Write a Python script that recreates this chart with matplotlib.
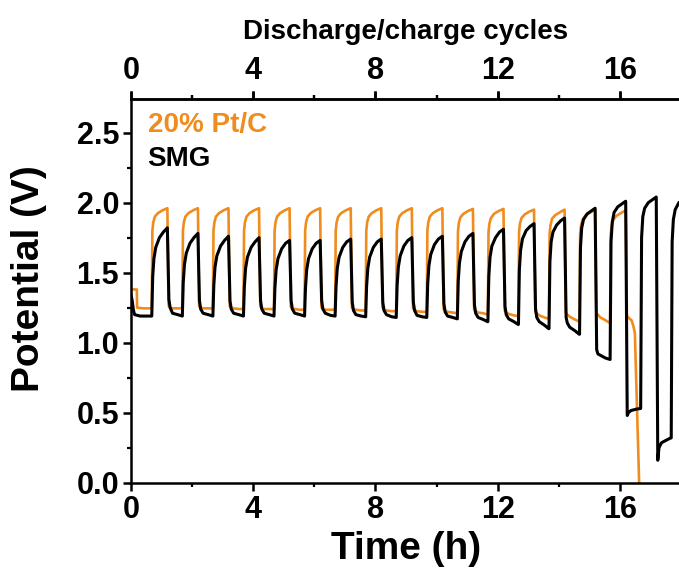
import matplotlib
matplotlib.use("Agg")
import matplotlib.pyplot as plt
import numpy as np

# ---------------- data ----------------
# start time (h) of each charge step
CHARGE_START = [0.68, 1.68, 2.68, 3.68, 4.68, 5.68, 6.68, 7.68, 8.68,
                9.68, 10.68, 11.68, 12.68, 13.68, 14.68, 15.68, 16.68, 17.68]

# relative sampling times inside one cycle (h after charge start)
SMG_CHARGE_OFF = [0.00, 0.03, 0.07, 0.13, 0.25, 0.38, 0.51]
SMG_DIS_OFF = [0.56, 0.60, 0.68, 0.85, 0.99]
PT_CHARGE_OFF = [0.00, 0.02, 0.05, 0.10, 0.20, 0.35, 0.51]
PT_DIS_OFF = [0.55, 0.60, 0.68, 0.85, 0.99]

# SMG potential (V): initial rest, then charge / discharge readings per cycle
SMG_INIT_T = [0.00, 0.04, 0.08, 0.12, 0.30]
SMG_INIT_V = [1.34, 1.30, 1.23, 1.20, 1.19]
SMG_CHARGE = [
    [1.19, 1.47, 1.60, 1.68, 1.75, 1.79, 1.82],
    [1.19, 1.43, 1.56, 1.64, 1.71, 1.75, 1.78],
    [1.19, 1.41, 1.54, 1.62, 1.69, 1.73, 1.76],
    [1.19, 1.40, 1.53, 1.61, 1.68, 1.72, 1.75],
    [1.19, 1.39, 1.52, 1.60, 1.67, 1.71, 1.73],
    [1.19, 1.39, 1.52, 1.60, 1.67, 1.71, 1.73],
    [1.19, 1.40, 1.53, 1.61, 1.68, 1.72, 1.74],
    [1.185, 1.40, 1.53, 1.61, 1.68, 1.72, 1.74],
    [1.18, 1.41, 1.54, 1.62, 1.69, 1.73, 1.75],
    [1.18, 1.42, 1.55, 1.63, 1.70, 1.74, 1.76],
    [1.17, 1.44, 1.57, 1.65, 1.72, 1.76, 1.78],
    [1.15, 1.47, 1.61, 1.69, 1.75, 1.79, 1.81],
    [1.13, 1.52, 1.66, 1.74, 1.80, 1.83, 1.85],
    [1.10, 1.58, 1.72, 1.79, 1.84, 1.87, 1.89],
    [1.06, 1.68, 1.82, 1.88, 1.92, 1.94, 1.96],
    [0.88, 1.72, 1.86, 1.93, 1.97, 1.99, 2.01],
    [0.53, 1.75, 1.90, 1.96, 2.00, 2.02, 2.04],
    [0.32, 1.72, 1.88, 1.95, 2.00, 2.02, 2.04],
]
SMG_DISCHARGE = [
    [1.31, 1.25, 1.21, 1.20, 1.19],
    [1.30, 1.24, 1.21, 1.20, 1.19],
    [1.30, 1.24, 1.21, 1.20, 1.19],
    [1.30, 1.24, 1.21, 1.20, 1.19],
    [1.30, 1.24, 1.21, 1.20, 1.19],
    [1.30, 1.24, 1.21, 1.195, 1.19],
    [1.29, 1.23, 1.20, 1.19, 1.185],
    [1.29, 1.23, 1.20, 1.185, 1.18],
    [1.29, 1.23, 1.195, 1.185, 1.18],
    [1.28, 1.22, 1.19, 1.18, 1.17],
    [1.27, 1.21, 1.18, 1.165, 1.15],
    [1.26, 1.20, 1.17, 1.15, 1.13],
    [1.24, 1.18, 1.15, 1.125, 1.10],
    [1.18, 1.14, 1.11, 1.085, 1.06],
    [0.95, 0.92, 0.91, 0.89, 0.88],
    [0.48, 0.50, 0.515, 0.525, 0.53],
    [0.16, 0.25, 0.285, 0.305, 0.32],
]

# 20% Pt/C potential (V)
PT_INIT_T = [0.00, 0.19, 0.20, 0.40]
PT_INIT_V = [1.38, 1.38, 1.25, 1.245]
PT_CHARGE = [
    [1.245, 1.80, 1.86, 1.90, 1.925, 1.945, 1.96],
    [1.245, 1.80, 1.86, 1.90, 1.925, 1.945, 1.96],
    [1.245, 1.80, 1.86, 1.90, 1.925, 1.945, 1.96],
    [1.24, 1.80, 1.86, 1.90, 1.925, 1.945, 1.96],
    [1.24, 1.80, 1.86, 1.90, 1.925, 1.945, 1.96],
    [1.235, 1.80, 1.86, 1.90, 1.925, 1.945, 1.96],
    [1.235, 1.80, 1.86, 1.90, 1.925, 1.945, 1.96],
    [1.23, 1.80, 1.86, 1.90, 1.925, 1.945, 1.96],
    [1.225, 1.80, 1.86, 1.90, 1.925, 1.945, 1.96],
    [1.22, 1.80, 1.86, 1.90, 1.925, 1.945, 1.96],
    [1.21, 1.79, 1.855, 1.895, 1.92, 1.94, 1.955],
    [1.20, 1.79, 1.85, 1.89, 1.92, 1.94, 1.955],
    [1.19, 1.79, 1.85, 1.89, 1.915, 1.935, 1.95],
    [1.17, 1.78, 1.84, 1.885, 1.91, 1.93, 1.95],
    [1.15, 1.78, 1.84, 1.88, 1.91, 1.93, 1.95],
    [1.14, 1.77, 1.83, 1.875, 1.905, 1.925, 1.945],
]
PT_DISCHARGE = [
    [1.265, 1.25, 1.245, 1.245, 1.245],
    [1.26, 1.25, 1.245, 1.245, 1.245],
    [1.26, 1.25, 1.245, 1.24, 1.24],
    [1.26, 1.245, 1.24, 1.24, 1.24],
    [1.255, 1.245, 1.24, 1.235, 1.235],
    [1.255, 1.24, 1.235, 1.235, 1.235],
    [1.25, 1.24, 1.235, 1.23, 1.23],
    [1.25, 1.235, 1.23, 1.225, 1.225],
    [1.245, 1.235, 1.225, 1.22, 1.22],
    [1.24, 1.23, 1.22, 1.215, 1.21],
    [1.235, 1.225, 1.215, 1.21, 1.20],
    [1.23, 1.215, 1.205, 1.195, 1.19],
    [1.225, 1.21, 1.195, 1.18, 1.17],
    [1.215, 1.20, 1.185, 1.165, 1.15],
    [1.21, 1.20, 1.18, 1.16, 1.14],
]
# final failure of 20% Pt/C
PT_TAIL_T = [16.23, 16.30, 16.38, 16.44, 16.49, 16.63]
PT_TAIL_V = [1.19, 1.175, 1.16, 1.12, 1.07, 0.0]

LABEL_PT = "20% Pt/C"
LABEL_SMG = "SMG"
X_TICKS = [0, 4, 8, 12, 16]
Y_TICKS = [0.0, 0.5, 1.0, 1.5, 2.0, 2.5]

ORANGE = "#F08C1E"


def build(init_t, init_v, charge, ch_off, discharge, dis_off, tail_t=(), tail_v=()):
    t = list(init_t)
    v = list(init_v)
    for k, start in enumerate(CHARGE_START):
        if k < len(charge):
            t += [start + o for o in ch_off]
            v += charge[k]
        if k < len(discharge):
            t += [start + o for o in dis_off]
            v += discharge[k]
    t += list(tail_t)
    v += list(tail_v)
    return np.array(t), np.array(v)


pt_t, pt_v = build(PT_INIT_T, PT_INIT_V, PT_CHARGE, PT_CHARGE_OFF,
                   PT_DISCHARGE, PT_DIS_OFF, PT_TAIL_T, PT_TAIL_V)
smg_t, smg_v = build(SMG_INIT_T, SMG_INIT_V, SMG_CHARGE, SMG_CHARGE_OFF,
                     SMG_DISCHARGE, SMG_DIS_OFF)

# ---------------- figure ----------------
plt.rcParams['font.family'] = ['Liberation Sans', 'DejaVu Sans']
plt.rcParams['font.weight'] = 'bold'

W, H = 679, 573
fig = plt.figure(figsize=(W / 100, H / 100), dpi=100)
ax = fig.add_axes([131 / W, (H - 482.7) / H, 550 / W, (482.7 - 99) / H])

ax.plot(pt_t, pt_v, color=ORANGE, lw=1.9, zorder=2, solid_joinstyle='round')
ax.plot(smg_t, smg_v, color='black', lw=2.2, zorder=3, solid_joinstyle='round')

ax.set_xlim(0, 18)
ax.set_ylim(0, 2.74)

ax.set_xticks(X_TICKS)
ax.set_xticks([2, 6, 10, 14], minor=True)
ax.set_yticks(Y_TICKS)
ax.set_yticklabels([f"{y:.1f}" for y in Y_TICKS])
ax.set_yticks([0.25, 0.75, 1.25, 1.75, 2.25], minor=True)

for s in ax.spines.values():
    s.set_linewidth(1.8)
ax.spines['right'].set_visible(False)

ax.tick_params(which='major', direction='out', length=5.5, width=1.8,
               labelsize=22, pad=3)
ax.tick_params(which='minor', direction='out', length=3, width=1.6)
ax.tick_params(axis='x', which='both', top=True, labeltop=False)

ax.set_xlabel("Time (h)", fontsize=28, fontweight='bold', labelpad=5)
ax.set_ylabel("Potential (V)", fontsize=28, fontweight='bold')
ax.yaxis.set_label_coords(-0.152, 0.533)

sec = ax.secondary_xaxis('top')
sec.set_xticks(X_TICKS)
sec.set_xticks([2, 6, 10, 14], minor=True)
sec.tick_params(which='major', direction='out', length=5.5, width=1.8,
                labelsize=22, pad=4)
sec.tick_params(which='minor', direction='out', length=3, width=1.6)
sec.spines['top'].set_linewidth(1.8)
sec.set_xlabel("Discharge/charge cycles", fontsize=20, fontweight='bold', labelpad=12)

ax.text(0.03, 0.966, LABEL_PT, transform=ax.transAxes, color=ORANGE,
        fontsize=20, fontweight='bold', va='top', ha='left')
ax.text(0.03, 0.878, LABEL_SMG, transform=ax.transAxes, color='black',
        fontsize=20, fontweight='bold', va='top', ha='left')

fig.savefig("out.png", dpi=100)
